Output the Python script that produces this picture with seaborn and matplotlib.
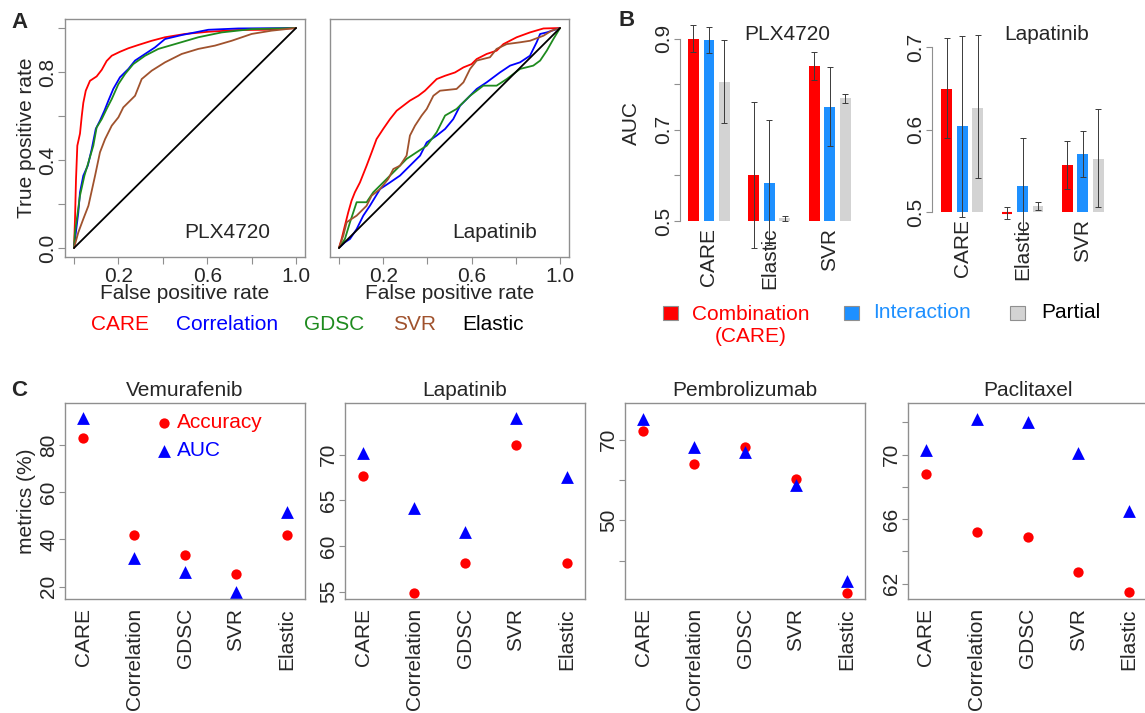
import numpy as np
import pandas as pd
from matplotlib import pyplot as plt
from matplotlib.patches import Rectangle
import seaborn as sns

W, H = 1145, 713

# ---------- A: ROC curves ----------
plx_care_fpr = [0, 0.0045, 0.009, 0.015, 0.027, 0.035, 0.042, 0.053, 0.072, 0.102, 0.125, 0.147,
                0.17, 0.207, 0.245, 0.29, 0.35, 0.41, 0.5, 0.605, 0.74, 0.86, 1]
plx_care_tpr = [0, 0.13, 0.31, 0.465, 0.52, 0.60, 0.66, 0.715, 0.76, 0.78, 0.81, 0.85,
                0.874, 0.892, 0.908, 0.923, 0.942, 0.958, 0.973, 0.983, 0.991, 0.992, 1]
plx_corr_fpr = [0, 0.012, 0.0195, 0.027, 0.042, 0.062, 0.08, 0.098, 0.117, 0.137, 0.155, 0.177,
                0.207, 0.245, 0.275, 0.32, 0.365, 0.41, 0.485, 0.605, 0.74, 1]
plx_corr_tpr = [0, 0.10, 0.162, 0.253, 0.329, 0.374, 0.45, 0.541, 0.579, 0.624, 0.67, 0.723,
                0.776, 0.814, 0.852, 0.882, 0.912, 0.95, 0.968, 0.992, 0.998, 1]
plx_gdsc_fpr = [0, 0.0045, 0.015, 0.027, 0.047, 0.065, 0.087, 0.102, 0.125, 0.147, 0.17, 0.2,
                0.23, 0.267, 0.32, 0.38, 0.455, 0.56, 0.665, 0.8, 1]
plx_gdsc_tpr = [0, 0.071, 0.147, 0.238, 0.329, 0.389, 0.465, 0.548, 0.586, 0.632, 0.677, 0.745,
                0.791, 0.836, 0.874, 0.905, 0.927, 0.958, 0.98, 0.995, 1]
plx_svr_fpr = [0, 0.0195, 0.042, 0.065, 0.095, 0.117, 0.14, 0.17, 0.2, 0.222, 0.245, 0.275,
               0.305, 0.35, 0.41, 0.485, 0.56, 0.635, 0.71, 0.8, 0.89, 1]
plx_svr_tpr = [0, 0.071, 0.132, 0.192, 0.329, 0.435, 0.495, 0.556, 0.594, 0.639, 0.662, 0.692,
               0.768, 0.806, 0.844, 0.882, 0.905, 0.92, 0.942, 0.973, 0.988, 1]
plx_elastic_fpr = [0, 1]
plx_elastic_tpr = [0, 1]

lap_care_fpr = [0, 0.012, 0.027, 0.042, 0.057, 0.072, 0.095, 0.11, 0.125, 0.148, 0.17, 0.2,
                0.231, 0.261, 0.291, 0.321, 0.359, 0.389, 0.412, 0.442, 0.48, 0.525, 0.563,
                0.6, 0.623, 0.668, 0.713, 0.744, 0.804, 0.864, 0.925, 1]
lap_care_tpr = [0, 0.041, 0.102, 0.162, 0.215, 0.253, 0.298, 0.336, 0.374, 0.435, 0.495, 0.541,
                0.586, 0.624, 0.647, 0.67, 0.692, 0.715, 0.738, 0.768, 0.783, 0.798, 0.821,
                0.836, 0.859, 0.882, 0.897, 0.927, 0.958, 0.98, 0.998, 1]
lap_corr_fpr = [0, 0.027, 0.05, 0.08, 0.11, 0.14, 0.186, 0.231, 0.276, 0.321, 0.367, 0.397,
                0.442, 0.48, 0.517, 0.548, 0.578, 0.623, 0.668, 0.728, 0.774, 0.819, 0.864,
                0.894, 0.91, 0.94, 1]
lap_corr_tpr = [0, 0.026, 0.041, 0.086, 0.147, 0.192, 0.268, 0.298, 0.329, 0.374, 0.42, 0.48,
                0.511, 0.541, 0.586, 0.647, 0.677, 0.723, 0.753, 0.798, 0.829, 0.844, 0.874,
                0.935, 0.973, 0.98, 1]
lap_gdsc_fpr = [0, 0.027, 0.05, 0.08, 0.125, 0.155, 0.2, 0.261, 0.306, 0.351, 0.397, 0.442,
                0.48, 0.532, 0.593, 0.653, 0.713, 0.759, 0.819, 0.879, 0.91, 0.94, 0.97, 1]
lap_gdsc_tpr = [0, 0.041, 0.117, 0.208, 0.208, 0.253, 0.298, 0.359, 0.405, 0.435, 0.465, 0.526,
                0.602, 0.632, 0.692, 0.738, 0.738, 0.768, 0.814, 0.829, 0.852, 0.897, 0.95, 1]
lap_svr_fpr = [0, 0.0196, 0.035, 0.057, 0.08, 0.103, 0.125, 0.148, 0.186, 0.223, 0.246, 0.276,
               0.306, 0.321, 0.344, 0.374, 0.397, 0.427, 0.457, 0.532, 0.563, 0.593, 0.623,
               0.683, 0.713, 0.759, 0.819, 0.864, 0.925, 0.962, 1]
lap_svr_tpr = [0, 0.056, 0.117, 0.132, 0.147, 0.17, 0.192, 0.238, 0.268, 0.314, 0.359, 0.374,
               0.42, 0.511, 0.556, 0.602, 0.632, 0.692, 0.715, 0.723, 0.753, 0.814, 0.852,
               0.867, 0.905, 0.927, 0.935, 0.942, 0.965, 0.988, 1]
lap_elastic_fpr = [0, 1]
lap_elastic_tpr = [0, 1]

roc_names = ["CARE", "Correlation", "GDSC", "SVR", "Elastic"]
roc_colors = ["#FF0000", "#0000FF", "#1E8B1E", "#A0522D", "#000000"]

# ---------- B: AUC bars with error ranges ----------
b_methods = ["CARE", "Elastic", "SVR"]
b_models = ["Combination", "Interaction", "Partial"]
b_colors = ["#FF0000", "#1E90FF", "#D3D3D3"]

plx_comb = [0.900, 0.600, 0.841]
plx_comb_lo = [0.871, 0.440, 0.810]
plx_comb_hi = [0.929, 0.760, 0.871]
plx_inter = [0.896, 0.584, 0.751]
plx_inter_lo = [0.869, 0.447, 0.665]
plx_inter_hi = [0.925, 0.721, 0.838]
plx_part = [0.805, 0.506, 0.769]
plx_part_lo = [0.714, 0.501, 0.758]
plx_part_hi = [0.896, 0.512, 0.779]

lap_comb = [0.650, 0.499, 0.557]
lap_comb_lo = [0.590, 0.491, 0.528]
lap_comb_hi = [0.711, 0.506, 0.586]
lap_inter = [0.604, 0.532, 0.571]
lap_inter_lo = [0.494, 0.474, 0.543]
lap_inter_hi = [0.714, 0.590, 0.599]
lap_part = [0.627, 0.507, 0.565]
lap_part_lo = [0.541, 0.502, 0.506]
lap_part_hi = [0.715, 0.512, 0.625]

# ---------- C: accuracy / AUC per drug ----------
c_methods = ["CARE", "Correlation", "GDSC", "SVR", "Elastic"]
vemu_acc = [83.0, 41.7, 33.5, 25.2, 41.7]
vemu_auc = [91.3, 32.0, 26.2, 17.9, 51.8]
lapa_acc = [67.7, 54.9, 58.1, 71.0, 58.1]
lapa_auc = [70.2, 64.2, 61.5, 74.0, 67.5]
pemb_acc = [72.1, 64.0, 68.1, 60.2, 32.1]
pemb_auc = [75.2, 68.3, 66.9, 58.8, 34.9]
pacl_acc = [68.8, 65.2, 64.9, 62.7, 61.5]
pacl_auc = [70.3, 72.2, 72.0, 70.1, 66.5]

GREY = "#8f8f8f"
FS = 15

sns.set_style("white")
plt.rcParams["font.family"] = ["Liberation Sans", "DejaVu Sans"]
plt.rcParams["font.size"] = FS

fig = plt.figure(figsize=(W / 100, H / 100), dpi=100)


def px_axes(x0, y0, x1, y1):
    return fig.add_axes([x0 / W, 1 - y1 / H, (x1 - x0) / W, (y1 - y0) / H])


def fx(x):
    return x / W


def fy(y):
    return 1 - y / H


def grey_box(ax):
    for s in ax.spines.values():
        s.set_color(GREY)
        s.set_linewidth(1)


# ---------------- panel A ----------------
roc_sets = [
    ("PLX4720", (65, 305), [(plx_care_fpr, plx_care_tpr), (plx_corr_fpr, plx_corr_tpr),
                            (plx_gdsc_fpr, plx_gdsc_tpr), (plx_svr_fpr, plx_svr_tpr),
                            (plx_elastic_fpr, plx_elastic_tpr)]),
    ("Lapatinib", (330, 569), [(lap_care_fpr, lap_care_tpr), (lap_corr_fpr, lap_corr_tpr),
                               (lap_gdsc_fpr, lap_gdsc_tpr), (lap_svr_fpr, lap_svr_tpr),
                               (lap_elastic_fpr, lap_elastic_tpr)]),
]
for i, (drug, (x0, x1), curves) in enumerate(roc_sets):
    ax = px_axes(x0, 19, x1, 257)
    for (fpr, tpr), col in zip(curves, roc_colors):
        sns.lineplot(x=fpr, y=tpr, sort=False, estimator=None, color=col, lw=1.3, ax=ax)
    ax.set_xlim(-0.0405, 1.0405)
    ax.set_ylim(-0.041, 1.041)
    grey_box(ax)
    ax.set_xticks([0, 0.2, 0.4, 0.6, 0.8, 1.0])
    ax.set_xticklabels(["", "0.2", "", "0.6", "", "1.0"])
    ax.tick_params(axis="x", bottom=True, length=5, color=GREY, pad=2.5, labelsize=FS)
    ax.set_xlabel("False positive rate", fontsize=FS)
    ax.xaxis.set_label_coords(0.5, -0.112)
    if i == 0:
        ax.set_yticks([0, 0.2, 0.4, 0.6, 0.8, 1.0])
        ax.set_yticklabels(["0.0", "", "0.4", "", "0.8", ""], rotation=90, va="center")
        ax.tick_params(axis="y", left=True, length=5, color=GREY, pad=1, labelsize=FS)
        ax.set_ylabel("True positive rate", fontsize=FS)
        ax.yaxis.set_label_coords(-0.121, 0.5)
    else:
        ax.set_yticks([])
    ax.text(0.69 if i == 0 else 0.706, 0.07, drug, ha="center", va="center", fontsize=FS)

legend_x = [120, 227, 334, 415, 493]
for name, col, x in zip(roc_names, roc_colors, legend_x):
    fig.text(fx(x), fy(324), name, color=col, ha="center", va="center", fontsize=FS)

# ---------------- panel B ----------------
bar_sets = [
    ("PLX4720", (680, 860), (0.5, 0.93), [0.5, 0.6, 0.7, 0.8, 0.9], ["0.5", "", "0.7", "", "0.9"], 787,
     [plx_comb, plx_inter, plx_part], [plx_comb_lo, plx_inter_lo, plx_part_lo],
     [plx_comb_hi, plx_inter_hi, plx_part_hi], 25, 221),
    ("Lapatinib", (932, 1113), (0.5, 0.72), [0.5, 0.6, 0.7], ["0.5", "0.6", "0.7"], 1047,
     [lap_comb, lap_inter, lap_part], [lap_comb_lo, lap_inter_lo, lap_part_lo],
     [lap_comb_hi, lap_inter_hi, lap_part_hi], 31, 212),
]
for i, (drug, (x0, x1), ylim, yt, ytl, tx, vals, los, his, top, bot) in enumerate(bar_sets):
    ax = px_axes(x0, top, x1, bot)
    rows = []
    for model, v in zip(b_models, vals):
        for m, val in zip(b_methods, v):
            rows.append({"method": m, "model": model, "auc": val})
    df = pd.DataFrame(rows)
    sns.barplot(data=df, x="method", y="auc", hue="model", hue_order=b_models, order=b_methods,
                palette=b_colors, saturation=1, width=0.77, gap=0.3, errorbar=None,
                linewidth=0, legend=False, ax=ax)
    for cont, v, lo, hi, col in zip(ax.containers, vals, los, his, b_colors):
        for bar, val, l, h in zip(cont, v, lo, hi):
            xc = bar.get_x() + bar.get_width() / 2
            if val < ylim[0]:
                ax.hlines(val, bar.get_x(), bar.get_x() + bar.get_width(), color=col, lw=1.5,
                          clip_on=False, zorder=3)
            ax.errorbar(xc, val, yerr=[[val - l], [h - val]], fmt="none", ecolor="#3a3a3a",
                        elinewidth=0.7, capsize=2.5, capthick=0.7, clip_on=False, zorder=4)
    ax.set_ylim(*ylim)
    ax.set_xlim(-0.48 if i == 0 else -0.5, 2.5)
    for s in ["top", "right", "bottom"]:
        ax.spines[s].set_visible(False)
    ax.spines["left"].set_color(GREY)
    ax.spines["left"].set_bounds(yt[0], yt[-1])
    ax.set_yticks(yt)
    ax.set_yticklabels(ytl, rotation=90, va="center")
    ax.tick_params(axis="y", left=True, length=4, color=GREY, pad=1, labelsize=FS)
    ax.tick_params(axis="x", length=0, pad=5, labelsize=FS, labelrotation=90)
    ax.set_xlabel("")
    if i == 0:
        ax.set_ylabel("AUC", fontsize=FS)
        ax.yaxis.set_label_coords(-0.217, 0.5)
    else:
        ax.set_ylabel("")
    fig.text(fx(tx), fy(35), drug, ha="center", va="center", fontsize=FS)

# legend for B
sq = [(670, "#FF0000"), (851, "#1E90FF"), (1017, "#D3D3D3")]
for x, col in sq:
    fig.add_artist(Rectangle((fx(x - 7.5), fy(313 + 7)), 15 / W, 14 / H, facecolor=col,
                             edgecolor=GREY, lw=0.8, transform=fig.transFigure))
fig.text(fx(751), fy(325), "Combination\n(CARE)", color="#FF0000", ha="center", va="center",
         multialignment="center", fontsize=FS, linespacing=1.2)
fig.text(fx(873), fy(313), "Interaction", color="#1E90FF", ha="left", va="center", fontsize=FS)
fig.text(fx(1041), fy(313), "Partial", color="black", ha="left", va="center", fontsize=FS)

# ---------------- panel C ----------------
c_sets = [
    ("Vemurafenib", (65, 305), vemu_acc, vemu_auc, (14.8, 97.8), [20, 40, 60, 80], ["20", "40", "60", "80"]),
    ("Lapatinib", (345, 585), lapa_acc, lapa_auc, (54.2, 75.64), [55, 60, 65, 70], ["55", "60", "65", "70"]),
    ("Pembrolizumab", (625, 865), pemb_acc, pemb_auc, (30.5, 79.1), [40, 50, 60, 70], ["", "50", "", "70"]),
    ("Paclitaxel", (908, 1147), pacl_acc, pacl_auc, (61.05, 73.2), [62, 64, 66, 68, 70, 72],
     ["62", "", "66", "", "70", ""]),
]
for i, (drug, (x0, x1), acc, auc, ylim, yt, ytl) in enumerate(c_sets):
    ax = px_axes(x0, 403, x1, 599)
    sns.scatterplot(x=c_methods, y=acc, color="#FF0000", marker="o", s=55, linewidth=0, ax=ax,
                    label="Accuracy" if i == 0 else None)
    sns.scatterplot(x=c_methods, y=auc, color="#0000FF", marker="^", s=85, linewidth=0, ax=ax,
                    label="AUC" if i == 0 else None)
    ax.set_xlim(-0.353, 4.353)
    ax.set_ylim(*ylim)
    grey_box(ax)
    ax.set_yticks(yt)
    ax.set_yticklabels(ytl, rotation=90, va="center")
    ax.tick_params(axis="y", left=True, length=4, color=GREY, pad=1, labelsize=FS)
    ax.tick_params(axis="x", length=0, pad=6.5, labelsize=FS, labelrotation=90)
    ax.set_title(drug, fontsize=FS, pad=5)
    if i == 0:
        ax.set_ylabel("metrics (%)", fontsize=FS)
        ax.yaxis.set_label_coords(-0.121, 0.5)
        leg = ax.legend(loc="upper left", bbox_to_anchor=(fx(156), fy(413)),
                        bbox_transform=fig.transFigure, frameon=False, fontsize=FS,
                        handlelength=0.8, handletextpad=0.2, borderpad=0, labelspacing=0.45,
                        borderaxespad=0)
        for t, col in zip(leg.get_texts(), ["#FF0000", "#0000FF"]):
            t.set_color(col)
    else:
        ax.set_ylabel("")
        if ax.get_legend() is not None:
            ax.get_legend().remove()

# panel letters
fig.text(fx(19), fy(23), "A", fontsize=16, fontweight="bold", ha="center", va="center")
fig.text(fx(627), fy(21), "B", fontsize=16, fontweight="bold", ha="center", va="center")
fig.text(fx(19), fy(390), "C", fontsize=16, fontweight="bold", ha="center", va="center")

fig.savefig("out.png", dpi=100)
